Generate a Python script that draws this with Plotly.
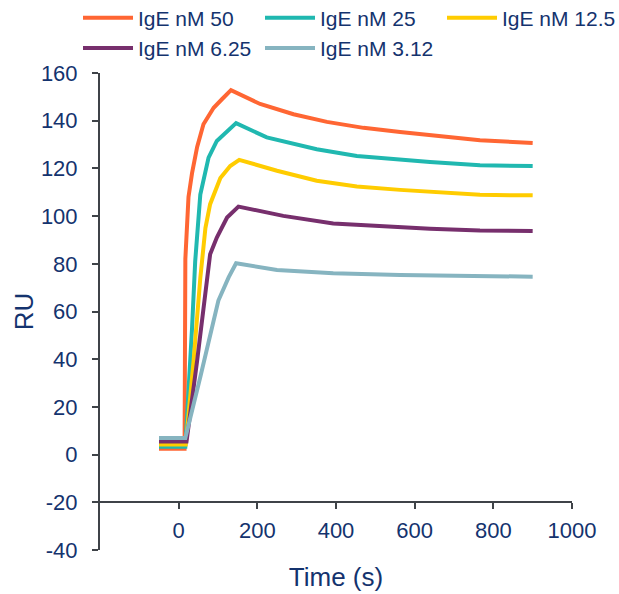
import plotly.graph_objects as go

# Series data (time in s, response in RU)
names = ["IgE nM 50", "IgE nM 25", "IgE nM 12.5", "IgE nM 6.25", "IgE nM 3.12"]
colors = ["#FF6633", "#20B8B0", "#FFCC00", "#772F6D", "#86B4C0"]

t_50 = [-50, 15, 17, 21, 25, 34, 47, 63, 89, 110, 133, 207, 292, 377, 470, 563, 639, 766, 900]
v_50 = [2.5, 2.5, 82, 100, 108, 118, 129, 138.5, 145.4, 149, 152.8, 147, 142.7, 139.5, 137, 135.3, 133.9, 131.8, 130.7]

t_25 = [-50, 17, 34, 42, 55, 76, 97, 146, 224, 351, 453, 563, 639, 766, 900]
v_25 = [3.3, 3.3, 53, 81, 109, 124.5, 131.5, 139, 133, 128, 125.2, 123.6, 122.7, 121.3, 121]

t_12 = [-50, 18, 38, 55, 68, 80, 106, 131, 154, 250, 351, 453, 563, 639, 766, 900]
v_12 = [4.2, 4.2, 39.5, 74, 95, 105, 116, 121, 123.6, 119, 114.8, 112.4, 111, 110.2, 108.9, 108.7]

t_6 = [-50, 20, 47, 68, 80, 97, 123, 152, 266, 393, 512, 639, 766, 900]
v_6 = [5.5, 5.5, 39.5, 67.4, 84, 91, 99.4, 104, 100.1, 96.9, 95.8, 94.7, 94, 93.8]

t_3 = [-50, 17, 55, 101, 127, 146, 250, 393, 563, 900]
v_3 = [7, 7, 32.5, 64.6, 74.3, 80.2, 77.4, 76, 75.3, 74.6]

x_ticks = [0, 200, 400, 600, 800, 1000]
y_ticks = [-40, -20, 0, 20, 40, 60, 80, 100, 120, 140, 160]
y_tick_text = ["-40", "-20", "0", "20", "40", "60", "80", "100", "120", "140", "160"]

series_t = [t_50, t_25, t_12, t_6, t_3]
series_v = [v_50, v_25, v_12, v_6, v_3]

TEXT = "#14336E"
AXIS = "#3F4348"
FONT = "Liberation Sans, Arial, sans-serif"

fig = go.Figure()
for name, c, tt, vv in zip(names, colors, series_t, series_v):
    fig.add_trace(go.Scatter(x=tt, y=vv, mode="lines", name=name,
                             line=dict(color=c, width=4)))

fig.update_layout(
    width=619, height=594,
    margin=dict(l=100, r=47, t=73, b=44, autoexpand=False),
    paper_bgcolor="white", plot_bgcolor="white",
    font=dict(family=FONT, size=22, color=TEXT),
    showlegend=True,
    legend=dict(orientation="h", x=-0.0466, xanchor="left", y=1.158, yanchor="top",
                font=dict(size=21, color=TEXT), itemwidth=50,
                entrywidth=117, entrywidthmode="pixels",
                tracegroupgap=0, bgcolor="rgba(0,0,0,0)"),
    xaxis=dict(range=[-200, 1000], tickvals=x_ticks, showgrid=False, zeroline=False,
               showline=True, linecolor=AXIS, linewidth=2,
               ticks="outside", ticklen=6, tickwidth=2, tickcolor=AXIS,
               anchor="free", position=0.1, ticklabelstandoff=2,
               title=dict(text="Time (s)", standoff=25)),
    yaxis=dict(range=[-40, 160], tickvals=y_ticks, ticktext=y_tick_text,
               showgrid=False, zeroline=False,
               showline=True, linecolor=AXIS, linewidth=2,
               ticks="outside", ticklen=6, tickwidth=2, tickcolor=AXIS,
               ticklabelstandoff=10,
               title=dict(text="RU", standoff=0)),
)

fig.write_html("out.html", config={"displayModeBar": False},
               post_script="document.body.style.margin='0';")
